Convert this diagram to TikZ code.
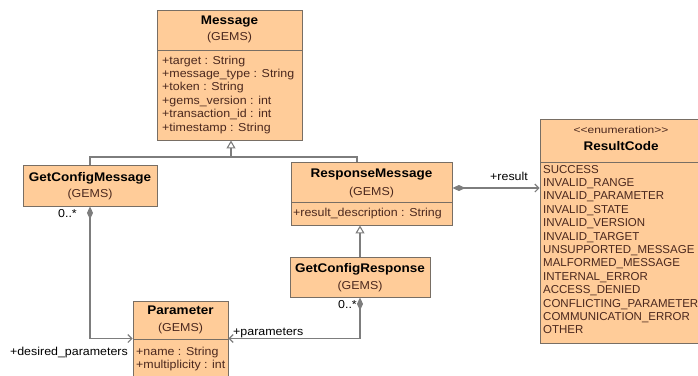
\documentclass[tikz,border=0pt]{standalone}
\usepackage{fontspec}
\setmainfont{Liberation Sans}[FakeStretch=1.08]
\newfontfamily\stereofont{Liberation Sans}[FakeStretch=1.2]
\newfontfamily\enumfont{Liberation Sans}
\usetikzlibrary{arrows.meta,calc}

\definecolor{classfill}{HTML}{FFCC99}
\definecolor{classline}{RGB}{120,110,100}
\definecolor{attrtext}{RGB}{75,40,30}
\definecolor{linkgray}{RGB}{125,125,125}

\tikzset{
  classbox/.style={draw=classline, fill=classfill, line width=0.9pt, inner sep=0pt},
  classname/.style={font=\fontsize{12.5}{14}\selectfont\bfseries, inner sep=0pt, anchor=base},
  pkgname/.style={font=\fontsize{11.5}{13.4}\selectfont, text=attrtext, inner sep=0pt, anchor=base},
  attr/.style={font=\fontsize{11.5}{13.4}\selectfont, text=attrtext, inner sep=0pt, anchor=base west},
  literal/.style={attr, font=\enumfont\fontsize{11.5}{13.4}\selectfont},
  rolelabel/.style={font=\fontsize{11.5}{13.4}\selectfont, inner sep=0pt},
  divider/.style={draw=classline, line width=0.9pt},
  link/.style={draw=linkgray, line width=1.1pt},
  genarrow/.style={link, -{Triangle[open, length=8pt, width=9pt, fill=white]}},
  comparrow/.style={link, {Diamond[length=13pt, width=6pt]}-{Straight Barb[length=4pt, width=8pt]}},
}

\begin{document}
\begin{tikzpicture}[x=1pt, y=-1pt]
  \clip (0,0) rectangle (698,375);

  % Message
  \node[classbox, minimum width=145pt, minimum height=130pt] (msg) at (229.5,75) {};
  \draw[divider] (157,50) -- (302,50);
  \node[classname] (msg-name) at (229.5,24) {Message};
  \node[pkgname] (msg-pkg) at (229.5,40) {(GEMS)};
  \foreach \t [count=\i from 0] in {target : String, message\_type : String, token : String, gems\_version : int, transaction\_id : int, timestamp : String}
    \node[attr] (msg-a\i) at (162,64+13.4*\i) {+\t};

  % GetConfigMessage
  \node[classbox, minimum width=134pt, minimum height=41pt] (gcm) at (90,185.5) {};
  \node[classname] (gcm-name) at (90,181) {GetConfigMessage};
  \node[pkgname] (gcm-pkg) at (90,197) {(GEMS)};

  % ResponseMessage
  \node[classbox, minimum width=161pt, minimum height=63pt] (rsp) at (371.5,193.5) {};
  \draw[divider] (291,202) -- (452,202);
  \node[classname] (rsp-name) at (371.5,177) {ResponseMessage};
  \node[pkgname] (rsp-pkg) at (371.5,195) {(GEMS)};
  \node[attr] (rsp-a0) at (293,216) {+result\_description : String};

  % GetConfigResponse
  \node[classbox, minimum width=140pt, minimum height=40pt] (gcr) at (360,277) {};
  \node[classname] (gcr-name) at (360,272) {GetConfigResponse};
  \node[pkgname] (gcr-pkg) at (360,289) {(GEMS)};

  % Parameter
  \node[classbox, minimum width=95pt, minimum height=75pt] (par) at (180.5,338.5) {};
  \draw[divider] (133,339) -- (228,339);
  \node[classname] (par-name) at (180.5,314) {Parameter};
  \node[pkgname] (par-pkg) at (180.5,331) {(GEMS)};
  \node[attr] (par-a0) at (136,355) {+name : String};
  \node[attr] (par-a1) at (136,368) {+multiplicity : int};

  % ResultCode
  \node[classbox, minimum width=162pt, minimum height=224pt] (rc) at (621,231) {};
  \draw[divider] (540,162) -- (702,162);
  \node[inner sep=0pt, anchor=base, font=\stereofont\fontsize{10}{12}\selectfont, text=attrtext] (rc-stereo) at (621,133) {<<enumeration>>};
  \node[classname] (rc-name) at (621,150) {ResultCode};
  \foreach \t [count=\i from 0] in {SUCCESS, INVALID\_RANGE, INVALID\_PARAMETER, INVALID\_STATE, INVALID\_VERSION, INVALID\_TARGET, UNSUPPORTED\_MESSAGE, MALFORMED\_MESSAGE, INTERNAL\_ERROR, ACCESS\_DENIED, CONFLICTING\_PARAMETER, COMMUNICATION\_ERROR, OTHER}
    \node[literal] (rc-v\i) at (543,173+13.4*\i) {\t};

  % Generalizations
  \coordinate (genjoin) at (231,157);
  \draw[link] (gcm.north) |- (genjoin);
  \draw[link] ([xshift=-14.5pt]rsp.north) |- (genjoin);
  \draw[genarrow] (genjoin) -- (genjoin |- msg.south);
  \draw[genarrow] (gcr.north) -- (gcr.north |- rsp.south);

  % Compositions
  \draw[comparrow] (gcm.south) |- (par.west);
  \draw[comparrow] (gcr.south) |- (par.east);
  \coordinate (resultend) at ([yshift=5.5pt]rsp.east);
  \draw[comparrow] (resultend) -- (resultend -| rc.west);

  % Role names and multiplicities
  \node[rolelabel, anchor=base west] (lbl-result) at (490,180) {+result};
  \node[rolelabel, anchor=base east] (lbl-gcm-mult) at (77,217) {0..*};
  \node[rolelabel, anchor=base east] (lbl-desired) at (128,355) {+desired\_parameters};
  \node[rolelabel, anchor=base west] (lbl-params) at (233,335) {+parameters};
  \node[rolelabel, anchor=base east] (lbl-gcr-mult) at (357,308) {0..*};
\end{tikzpicture}
\end{document}
